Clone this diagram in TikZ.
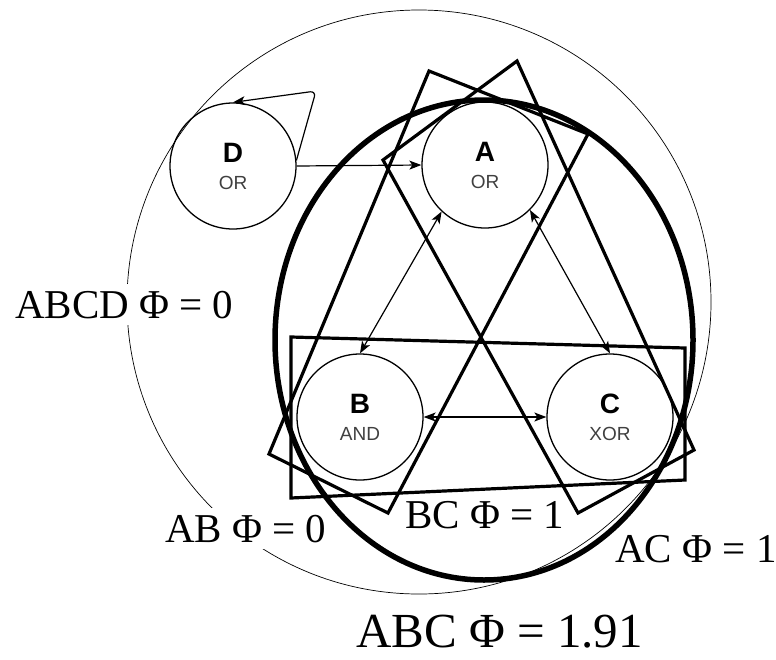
\documentclass[tikz,border=0pt]{standalone}
\usepackage{fontspec}
\setmainfont{Liberation Serif}
\newfontfamily\gatefont{Liberation Sans}
\usetikzlibrary{arrows.meta}

% two-line text of a unit: name over gate type
\newcommand{\unittext}[2]{\textbf{#1}\\{\fontsize{19}{19}\selectfont\color{darkgray}#2}}

\begin{document}
\begin{tikzpicture}[
    x=1pt, y=-1pt,
    unit/.style={draw, circle, line width=1.3pt, minimum size=126pt, inner sep=0pt,
                 align=center, font=\gatefont\fontsize{28}{27}\selectfont},
    arr/.style={-{Stealth[length=12pt, width=9pt, inset=3pt]}, line width=1.2pt},
    biarr/.style={{Stealth[length=12pt, width=9pt, inset=3pt]}-{Stealth[length=12pt, width=9pt, inset=3pt]}, line width=1.2pt},
    frame/.style={draw, line width=3.2pt},
    phi/.style={anchor=base west, fill=white, inner xsep=2pt, inner ysep=7pt, font=\fontsize{41}{41}\selectfont},
]
\useasboundingbox (0,0) rectangle (776,659);
% whole system
\draw[line width=0.7pt] (419,302) circle[radius=292];
% labels of the partitions
\node[phi] (abcd) at (13,318) {ABCD Φ = 0};
\node[phi] (ab) at (163,542) {AB Φ = 0};
\node[phi] (bc) at (403,528) {BC Φ = 1};
\node[phi] (ac) at (613,562) {AC Φ = 1};
\node[phi, fill=none, inner ysep=0pt, font=\fontsize{49}{49}\selectfont] (abc) at (354,647) {ABC Φ = 1.91};
% main complex
\draw[line width=5.5pt] (484,340) ellipse[x radius=209, y radius=240];
% pair frames
\draw[frame] (429,71) -- (269,454) -- (388,513) -- (588,134) -- cycle;
\draw[frame] (517,61) -- (694,450) -- (578,513) -- (383,160) -- cycle;
\draw[frame] (291,337) -- (685,348) -- (685,480) -- (291,498) -- cycle;
% units
\node[unit] (d) at (233,166) {\unittext{D}{OR}};
\node[unit] (a) at (485,165) {\unittext{A}{OR}};
\node[unit] (b) at (360,417) {\unittext{B}{AND}};
\node[unit] (c) at (610,417) {\unittext{C}{XOR}};
\coordinate (loop) at (316,91);
% connections
\draw[arr] (d.east) -- (a.west);
\draw[arr, rounded corners=6pt] (d.5) -- (loop) -- (d.north);
\draw[biarr] (a.227) -- (b.north);
\draw[biarr] (a.315) -- (c.north);
\draw[biarr] (b.east) -- (c.west);
\end{tikzpicture}
\end{document}
